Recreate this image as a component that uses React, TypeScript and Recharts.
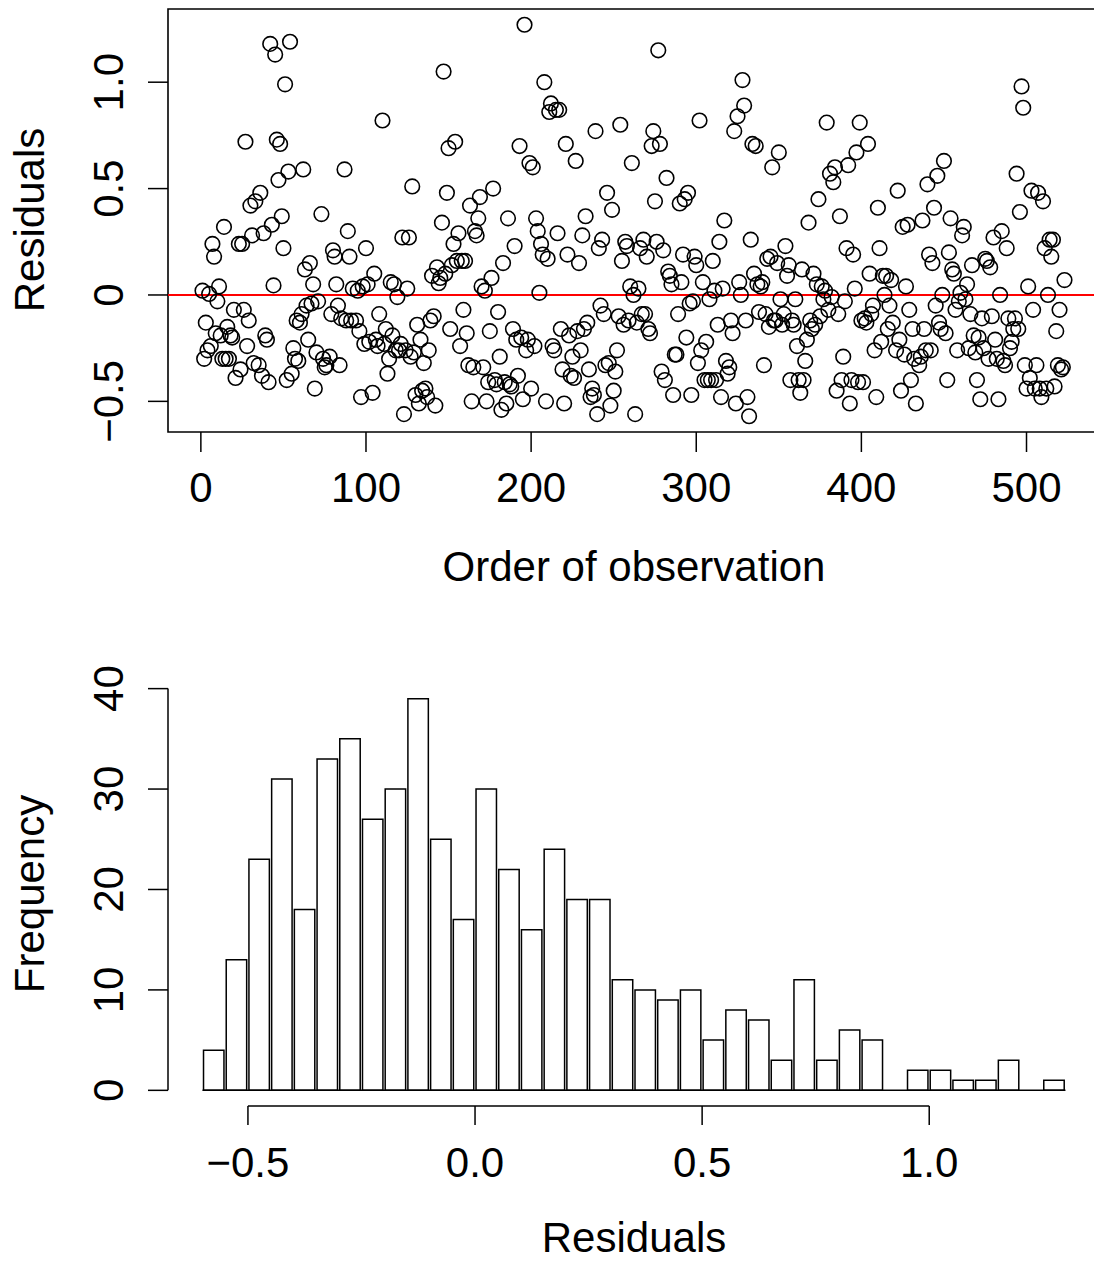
import {
  ScatterChart,
  Scatter,
  BarChart,
  Bar,
  XAxis,
  YAxis,
  ReferenceLine,
  ReferenceArea,
} from "recharts"

const FONT = '"Liberation Sans", Arial, Helvetica, sans-serif'
const FS = 42

// [order of observation, residual]
const residualPoints: [number, number][] = [
  [1, 0.02], [2, -0.3], [3, -0.13], [4, -0.26], [5, 0.005], [6, -0.24], [7, 0.24], [8, 0.18], [9, -0.18], [10, -0.03],
  [11, 0.04], [12, -0.19], [13, -0.3], [14, 0.32], [15, -0.3], [16, -0.15], [17, -0.3], [18, -0.19], [19, -0.2], [20, -0.07],
  [21, -0.39], [23, 0.24], [24, -0.35], [25, 0.24], [26, -0.07], [27, 0.72], [28, -0.24], [29, -0.12], [30, 0.42], [31, 0.28],
  [32, -0.32], [33, 0.44], [35, -0.33], [36, 0.48], [37, -0.38], [38, 0.29], [39, -0.19], [40, -0.21], [41, -0.41], [42, 1.18],
  [43, 0.33], [44, 0.045], [45, 1.13], [46, 0.73], [47, 0.54], [48, 0.71], [49, 0.37], [50, 0.22], [51, 0.99], [52, -0.4],
  [53, 0.58], [54, 1.19], [55, -0.37], [56, -0.25], [57, -0.3], [58, -0.12], [59, -0.31], [60, -0.13], [61, -0.09], [62, 0.59],
  [63, 0.12], [64, -0.05], [65, -0.21], [66, 0.15], [67, -0.04], [68, 0.05], [69, -0.44], [70, -0.27], [71, -0.03], [73, 0.38],
  [74, -0.3], [75, -0.34], [76, -0.33], [78, -0.29], [79, -0.09], [80, 0.21], [81, 0.18], [82, 0.05], [83, -0.05], [84, -0.33],
  [85, -0.11], [87, 0.59], [88, -0.12], [89, 0.3], [90, 0.18], [91, -0.12], [92, 0.03], [94, -0.12], [95, 0.02], [96, -0.17],
  [97, -0.48], [98, 0.04], [99, -0.23], [100, 0.22], [101, 0.05], [102, -0.22], [104, -0.46], [105, 0.1], [106, -0.21], [107, -0.24],
  [108, -0.09], [110, 0.82], [111, -0.23], [112, -0.16], [113, -0.37], [114, -0.3], [115, 0.06], [116, -0.19], [117, 0.05], [118, -0.26],
  [119, -0.01], [120, -0.26], [121, -0.23], [122, 0.27], [123, -0.56], [124, -0.26], [125, 0.03], [126, 0.27], [127, -0.29], [128, 0.51],
  [129, -0.27], [130, -0.47], [131, -0.14], [132, -0.51], [133, -0.21], [134, -0.45], [135, -0.32], [136, -0.44], [137, -0.48], [138, -0.26],
  [139, -0.12], [140, 0.09], [141, -0.1], [142, -0.52], [143, 0.13], [144, 0.055], [145, 0.08], [146, 0.34], [147, 1.05], [148, 0.1],
  [149, 0.48], [150, 0.69], [151, -0.16], [152, 0.14], [153, 0.24], [154, 0.72], [155, 0.16], [156, 0.29], [157, -0.24], [158, 0.16],
  [159, -0.07], [160, 0.16], [161, -0.18], [162, -0.33], [163, 0.42], [164, -0.5], [165, -0.34], [166, 0.3], [167, 0.28], [168, 0.36],
  [169, 0.46], [170, 0.04], [171, -0.34], [172, 0.02], [173, -0.5], [174, -0.41], [175, -0.17], [176, 0.08], [177, 0.5], [178, -0.4],
  [179, -0.42], [180, -0.08], [181, -0.29], [182, -0.54], [183, 0.15], [184, -0.41], [185, -0.51], [186, 0.36], [187, -0.42], [188, -0.43],
  [189, -0.16], [190, 0.23], [191, -0.21], [192, -0.38], [193, 0.7], [194, -0.2], [195, -0.49], [196, 1.27], [197, -0.26], [198, -0.21],
  [199, 0.62], [200, -0.44], [201, 0.6], [202, -0.24], [203, 0.36], [204, 0.3], [205, 0.01], [206, 0.24], [207, 0.19], [208, 1.0],
  [209, -0.5], [210, 0.17], [211, 0.86], [212, 0.9], [213, -0.24], [214, -0.26], [215, 0.87], [216, 0.29], [217, 0.87], [218, -0.16],
  [219, -0.35], [220, -0.51], [221, 0.71], [222, 0.19], [223, -0.19], [224, -0.38], [225, -0.29], [226, -0.39], [227, 0.63], [228, -0.17],
  [229, 0.15], [230, -0.26], [231, 0.28], [232, -0.16], [233, 0.37], [234, -0.13], [235, -0.35], [236, -0.48], [237, -0.44], [238, -0.47],
  [239, 0.77], [240, -0.56], [241, 0.22], [242, -0.05], [243, 0.26], [244, -0.09], [245, -0.33], [246, 0.48], [247, -0.32], [248, -0.52],
  [249, 0.4], [250, -0.45], [251, -0.36], [252, -0.26], [253, -0.1], [254, 0.8], [255, 0.16], [256, -0.14], [257, 0.25], [258, 0.23],
  [259, -0.12], [260, 0.04], [261, 0.62], [262, 0.0], [263, -0.56], [264, -0.13], [265, 0.03], [266, 0.22], [267, -0.09], [268, 0.26],
  [269, -0.09], [270, 0.18], [271, -0.16], [272, -0.18], [273, 0.7], [274, 0.77], [275, 0.44], [276, 0.25], [277, 1.15], [278, 0.71],
  [279, -0.36], [280, 0.21], [281, -0.4], [282, 0.55], [283, 0.11], [284, 0.09], [285, 0.05], [286, -0.47], [287, -0.28], [288, -0.28],
  [289, -0.09], [290, 0.43], [291, 0.06], [292, 0.19], [293, 0.45], [294, -0.2], [295, 0.48], [296, -0.04], [297, -0.47], [298, -0.03],
  [299, 0.18], [300, 0.14], [301, -0.32], [302, 0.82], [303, -0.26], [304, 0.06], [305, -0.4], [306, -0.22], [307, -0.4], [308, -0.02],
  [309, -0.4], [310, 0.16], [311, 0.02], [312, -0.4], [313, -0.14], [314, 0.25], [315, -0.48], [316, 0.03], [317, 0.35], [318, -0.31],
  [319, -0.37], [320, -0.34], [321, -0.12], [322, -0.18], [323, 0.77], [324, -0.51], [325, 0.84], [326, 0.06], [327, 0.0], [328, 1.01],
  [329, 0.89], [330, -0.12], [331, -0.48], [332, -0.57], [333, 0.26], [334, 0.71], [335, 0.1], [336, 0.7], [337, 0.05], [338, -0.08],
  [339, 0.04], [340, 0.06], [341, -0.33], [342, -0.09], [343, 0.17], [344, -0.15], [345, 0.18], [346, 0.6], [347, -0.12], [348, -0.12],
  [349, 0.15], [350, 0.67], [351, -0.02], [352, -0.14], [353, -0.09], [354, 0.23], [355, 0.09], [356, 0.14], [357, -0.4], [358, -0.12],
  [359, -0.14], [360, -0.02], [361, -0.24], [362, -0.4], [363, -0.46], [364, 0.12], [365, -0.4], [366, -0.31], [367, -0.21], [368, 0.34],
  [369, -0.12], [370, -0.16], [371, 0.1], [372, -0.14], [373, 0.05], [374, 0.45], [375, -0.1], [376, 0.04], [377, -0.02], [378, 0.02],
  [379, 0.81], [380, -0.07], [381, 0.57], [382, -0.01], [383, 0.53], [384, 0.6], [385, -0.45], [386, -0.09], [387, 0.37], [388, -0.4],
  [389, -0.29], [390, -0.03], [391, 0.22], [392, 0.61], [393, -0.51], [394, -0.4], [395, 0.19], [396, 0.03], [397, 0.67], [398, -0.41],
  [399, 0.81], [400, -0.12], [401, -0.41], [402, -0.11], [403, -0.13], [404, 0.71], [405, 0.1], [406, -0.09], [407, -0.05], [408, -0.26],
  [409, -0.48], [410, 0.41], [411, 0.22], [412, -0.22], [413, 0.09], [414, 0.0], [415, 0.09], [416, -0.16], [417, -0.05], [418, 0.07],
  [419, -0.13], [421, -0.26], [422, 0.49], [423, -0.21], [424, -0.45], [425, 0.32], [426, -0.28], [427, 0.04], [428, 0.33], [429, -0.07],
  [430, -0.4], [431, -0.16], [432, -0.3], [433, -0.51], [435, -0.33], [436, -0.29], [437, 0.35], [438, -0.16], [439, -0.26], [440, 0.52],
  [441, 0.19], [442, -0.26], [443, 0.15], [444, 0.41], [445, -0.05], [446, 0.56], [447, -0.13], [448, -0.16], [449, 0.0], [450, 0.63],
  [451, -0.18], [452, -0.4], [453, 0.2], [454, 0.36], [455, 0.12], [456, 0.1], [457, -0.07], [458, -0.26], [459, -0.03], [460, 0.01],
  [461, 0.28], [462, 0.32], [463, -0.02], [464, 0.05], [465, -0.25], [466, -0.09], [467, 0.14], [468, -0.19], [469, -0.27], [470, -0.4],
  [471, -0.2], [472, -0.49], [473, -0.11], [474, -0.25], [475, 0.17], [476, 0.16], [477, -0.3], [478, 0.13], [479, -0.1], [480, 0.27],
  [481, -0.21], [482, -0.3], [483, -0.49], [484, 0.0], [485, 0.3], [486, -0.31], [487, -0.33], [488, 0.22], [489, -0.11], [490, -0.25],
  [491, -0.22], [492, -0.16], [493, -0.11], [494, 0.57], [495, -0.16], [496, 0.39], [497, 0.98], [498, 0.88], [499, -0.33], [500, -0.44],
  [501, 0.04], [502, -0.39], [503, 0.49], [504, -0.07], [505, -0.44], [506, -0.33], [507, 0.48], [508, -0.44], [509, -0.48], [510, 0.44],
  [511, 0.22], [512, -0.44], [513, 0.0], [514, 0.26], [515, 0.18], [516, 0.26], [517, -0.43], [518, -0.17], [519, -0.33], [520, -0.07],
  [521, -0.35], [522, -0.34], [523, 0.07],
]

const orderTicks = [0, 100, 200, 300, 400, 500]
const residualTicks = [-0.5, 0, 0.5, 1.0]

// histogram of the residuals, bins 0.05 wide
const binStarts = [
  -0.6, -0.55, -0.5, -0.45, -0.4, -0.35, -0.3, -0.25, -0.2, -0.15, -0.1, -0.05, 0, 0.05, 0.1, 0.15, 0.2, 0.25, 0.3,
  0.35, 0.4, 0.45, 0.5, 0.55, 0.6, 0.65, 0.7, 0.75, 0.8, 0.85, 0.9, 0.95, 1.0, 1.05, 1.1, 1.15, 1.2, 1.25,
]
const binCounts = [
  4, 13, 23, 31, 18, 33, 35, 27, 30, 39, 25, 17, 30, 22, 16, 24, 19, 19, 11,
  10, 9, 10, 5, 8, 7, 3, 11, 3, 6, 5, 0, 2, 2, 1, 1, 3, 0, 1,
]
const BIN_WIDTH = 0.05
const histTicks = [-0.5, 0, 0.5, 1.0]
const freqTicks = [0, 10, 20, 30, 40]

const scatterData = residualPoints.map(([order, residual]) => ({ order, residual }))
const histData = binStarts.map((start, i) => ({ mid: start + BIN_WIDTH / 2, count: binCounts[i] }))

// axis ranges (R pads the data range by 4%)
const ORDER_DOMAIN: [number, number] = [-19.9, 543.9]
const RES_DOMAIN: [number, number] = [-0.644, 1.344]
const HIST_X_DOMAIN: [number, number] = [-0.676, 1.376]
const FREQ_DOMAIN: [number, number] = [-1.56, 40.56]

const CHART_W = 1100
const PLOT_LEFT = 168
const HIST_PLOT_W = CHART_W - PLOT_LEFT
const barPx = (HIST_PLOT_W * BIN_WIDTH) / (HIST_X_DOMAIN[1] - HIST_X_DOMAIN[0])

const LINE = { stroke: "#000", strokeWidth: 1.5 }

const withMinus = (s: string) => s.replace("-", "\u2212")
const fmtRes = (v: number) => (v === 0 ? "0" : withMinus(v.toFixed(1)))
const fmtHist = (v: number) => withMinus(v.toFixed(1))
const fmtInt = (v: number) => String(v)

function BottomTick(props: any) {
  const { x, payload, baseline, fmt } = props
  return (
    <text x={x} y={baseline} textAnchor="middle" fontFamily={FONT} fontSize={FS} fill="#000">
      {fmt(payload.value)}
    </text>
  )
}

function LeftTick(props: any) {
  const { y, payload, fmt } = props
  const bx = 123
  return (
    <text
      x={bx}
      y={y}
      transform={`rotate(-90 ${bx} ${y})`}
      textAnchor="middle"
      fontFamily={FONT}
      fontSize={FS}
      fill="#000"
    >
      {fmt(payload.value)}
    </text>
  )
}

function ResidualScatter() {
  return (
    <ScatterChart width={CHART_W} height={600} margin={{ top: 9, right: 1, bottom: 108, left: PLOT_LEFT - 60 }}>
      <XAxis
        type="number"
        dataKey="order"
        domain={ORDER_DOMAIN}
        ticks={orderTicks}
        interval={0}
        allowDataOverflow
        height={60}
        tickSize={20}
        axisLine={false}
        tickLine={LINE}
        tick={(p: any) => <BottomTick {...p} baseline={502} fmt={fmtInt} />}
      />
      <YAxis
        type="number"
        dataKey="residual"
        domain={RES_DOMAIN}
        ticks={residualTicks}
        interval={0}
        allowDataOverflow
        width={60}
        tickSize={20}
        axisLine={false}
        tickLine={LINE}
        tick={(p: any) => <LeftTick {...p} fmt={fmtRes} />}
      />
      <ReferenceArea
        x1={ORDER_DOMAIN[0]}
        x2={ORDER_DOMAIN[1]}
        y1={RES_DOMAIN[0]}
        y2={RES_DOMAIN[1]}
        fill="none"
        fillOpacity={0}
        stroke="#000"
        strokeWidth={1.6}
        ifOverflow="visible"
      />
      <Scatter
        data={scatterData}
        isAnimationActive={false}
        shape={(p: any) => (
          <circle cx={p.cx} cy={p.cy} r={7.3} fill="none" stroke="#000" strokeWidth={1.6} />
        )}
      />
      <ReferenceLine y={0} stroke="#ff0000" strokeWidth={2} />
    </ScatterChart>
  )
}

function ResidualHistogram() {
  return (
    <BarChart
      width={CHART_W}
      height={662}
      data={histData}
      margin={{ top: 83, right: 0, bottom: 96, left: PLOT_LEFT - 60 }}
      barCategoryGap={0}
      barGap={0}
    >
      <XAxis
        type="number"
        dataKey="mid"
        domain={HIST_X_DOMAIN}
        ticks={histTicks}
        interval={0}
        allowDataOverflow
        height={60}
        tickSize={19}
        axisLine={false}
        tickLine={LINE}
        tick={(p: any) => <BottomTick {...p} baseline={577} fmt={fmtHist} />}
      />
      <YAxis
        type="number"
        domain={FREQ_DOMAIN}
        ticks={freqTicks}
        interval={0}
        allowDataOverflow
        width={60}
        tickSize={20}
        axisLine={false}
        tickLine={LINE}
        tick={(p: any) => <LeftTick {...p} fmt={fmtInt} />}
      />
      <Bar dataKey="count" fill="#fff" stroke="#000" strokeWidth={1.5} barSize={barPx} isAnimationActive={false} />
      <ReferenceLine
        segment={[
          { x: binStarts[0], y: 0 },
          { x: binStarts[binStarts.length - 1] + BIN_WIDTH, y: 0 },
        ]}
        {...LINE}
        ifOverflow="visible"
      />
      <ReferenceLine
        segment={[
          { x: HIST_X_DOMAIN[0], y: freqTicks[0] },
          { x: HIST_X_DOMAIN[0], y: freqTicks[freqTicks.length - 1] },
        ]}
        {...LINE}
        ifOverflow="visible"
      />
      <ReferenceLine
        segment={[
          { x: histTicks[0], y: FREQ_DOMAIN[0] },
          { x: histTicks[histTicks.length - 1], y: FREQ_DOMAIN[0] },
        ]}
        {...LINE}
        ifOverflow="visible"
      />
    </BarChart>
  )
}

export default function App() {
  const title = { fontFamily: FONT, fontSize: FS, fill: "#000", textAnchor: "middle" as const }
  return (
    <div
      style={{
        position: "absolute",
        left: 0,
        top: 0,
        width: 1094,
        height: 1262,
        overflow: "hidden",
        background: "#fff",
      }}
    >
      <div style={{ position: "absolute", left: 0, top: 0 }}>
        <ResidualScatter />
      </div>
      <div style={{ position: "absolute", left: 0, top: 600 }}>
        <ResidualHistogram />
      </div>
      <svg
        width={1094}
        height={1262}
        style={{ position: "absolute", left: 0, top: 0, pointerEvents: "none" }}
      >
        <text x={634} y={581} {...title}>Order of observation</text>
        <text x={44} y={220} transform="rotate(-90 44 220)" {...title}>Residuals</text>
        <text x={44} y={894} transform="rotate(-90 44 894)" {...title}>Frequency</text>
        <text x={634} y={1252} {...title}>Residuals</text>
      </svg>
    </div>
  )
}
